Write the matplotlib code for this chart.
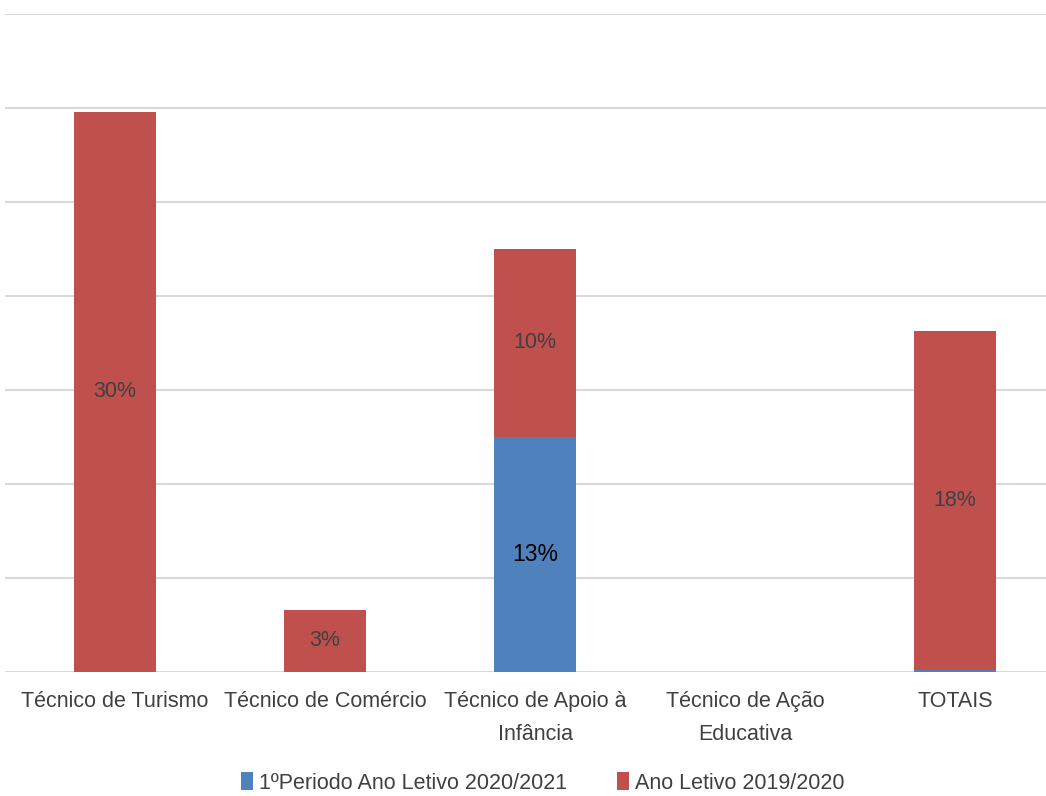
import matplotlib
matplotlib.use("Agg")
import matplotlib.pyplot as plt
from matplotlib import font_manager
import numpy as np

categories = ["Técnico de Turismo", "Técnico de Comércio", "Técnico de Apoio à\nInfância",
              "Técnico de Ação\nEducativa", "TOTAIS"]
periodo_2020 = [0.0, 0.0, 12.5, 0.0, 0.12]
ano_2019 = [29.8, 3.3, 10.0, 0.0, 18.0]
labels_2020 = ["", "", "13%", "", ""]
labels_2019 = ["30%", "3%", "10%", "", "18%"]

# pick a narrow font if present
names = {f.name for f in font_manager.fontManager.ttflist}
family = ["Liberation Sans Narrow", "DejaVu Sans"] if "Liberation Sans Narrow" in names else ["Liberation Sans", "DejaVu Sans"]
plt.rcParams['font.family'] = family

BLUE = "#4F81BD"
RED = "#C0504D"
GREY = "#404040"

fig = plt.figure(figsize=(10.46, 7.96), dpi=100)
ax = fig.add_axes([5 / 1046, 1 - 672 / 796, 1 - 5 / 1046, (672 - 14) / 796])

x = np.arange(len(categories))
w = 0.395
b1 = ax.bar(x, periodo_2020, w, color=BLUE, label="1ºPeriodo Ano Letivo 2020/2021", zorder=3)
b2 = ax.bar(x, ano_2019, w, bottom=periodo_2020, color=RED, label="Ano Letivo 2019/2020", zorder=3)

for i in range(len(x)):
    if labels_2020[i]:
        ax.text(x[i], periodo_2020[i] / 2, labels_2020[i], ha='center', va='center',
                fontsize=16.5, color='black', zorder=4)
    if labels_2019[i]:
        ax.text(x[i], periodo_2020[i] + ano_2019[i] / 2, labels_2019[i], ha='center', va='center',
                fontsize=15.5, color=GREY, zorder=4)

ax.set_ylim(0, 35)
ax.set_yticks(np.arange(0, 36, 5))
ax.set_yticklabels([])
ax.tick_params(axis='y', length=0)
ax.set_xlim((5 - 115) / 210, (1046 - 115) / 210)
ax.set_xticks(x)
ax.set_xticklabels(categories, fontsize=15.5, color=GREY, linespacing=1.75)
ax.tick_params(axis='x', length=0, pad=14)
ax.grid(axis='y', color='#D9D9D9', linewidth=1.5, zorder=0)
for s in ax.spines.values():
    s.set_visible(False)

fig.legend(handles=[b1, b2], loc='center', bbox_to_anchor=(543 / 1046, 1 - 783 / 796),
           ncol=2, frameon=False, fontsize=15.5, handlelength=0.55, handleheight=0.9,
           handletextpad=0.3, columnspacing=2.3, labelcolor=GREY)

fig.savefig("out.png", dpi=100)
